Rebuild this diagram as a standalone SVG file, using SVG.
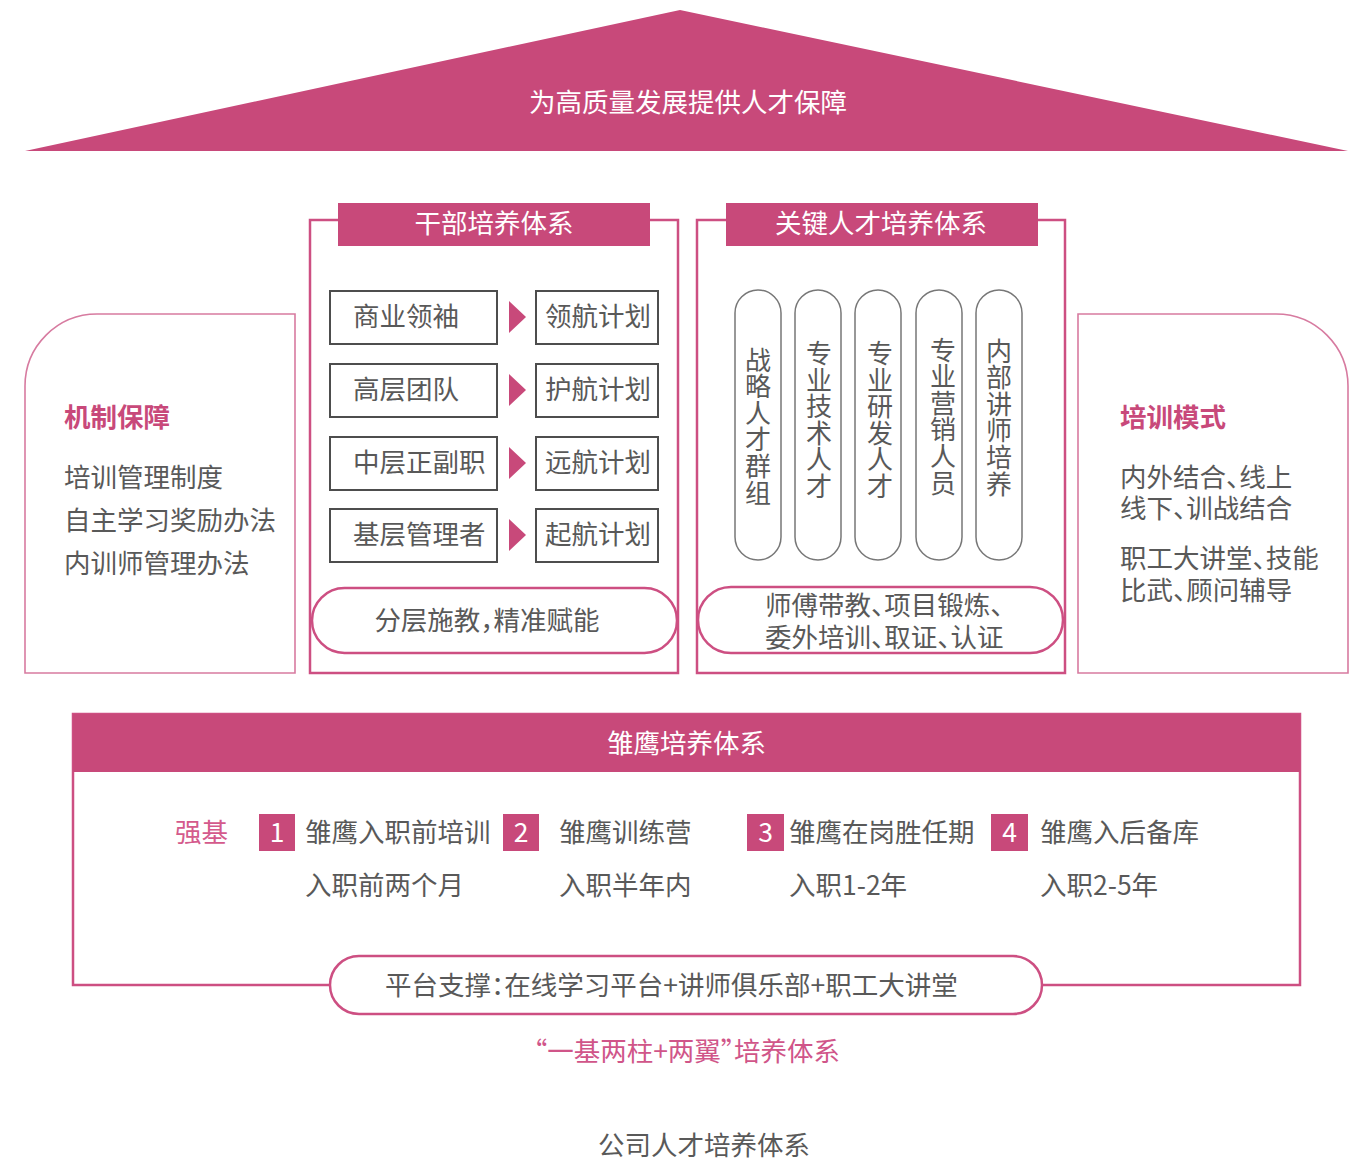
<svg xmlns="http://www.w3.org/2000/svg" width="1367" height="1162" viewBox="0 0 1367 1162">
<style>
text{font-family:"Noto Sans CJK SC","Noto Sans",sans-serif;font-feature-settings:"halt";}
.w{fill:#ffffff;font-size:26.5px;}
.g{fill:#595959;font-size:26.5px;}
.p{fill:#C8497A;font-size:26.5px;}
.pt{fill:#C8497A;font-size:26.5px;font-weight:700;}
.v{fill:#595959;font-size:26px;writing-mode:vertical-rl;text-anchor:middle;letter-spacing:0.6px;}
.bar{fill:#C8497A;}
.frame{fill:none;stroke:#CD4F82;stroke-width:2.5;}
.side{fill:#ffffff;stroke:#D77BA0;stroke-width:1.6;}
.box{fill:#ffffff;stroke:#4d4d4d;stroke-width:2;}
.vp{fill:#ffffff;stroke:#777777;stroke-width:1.5;}
.pill{fill:#ffffff;stroke:#CD4F82;stroke-width:2.5;}
.tri{fill:#C8497A;}
.c{text-anchor:middle;}
</style>

<g id="roof">
<polygon points="680,10 1348,151 25,151" class="bar"/>
<text x="688" y="111.5" class="w c">为高质量发展提供人才保障</text>
</g>

<g id="mechanism">
<path d="M25,673 V386 A72,72 0 0 1 97,314 H295 V673 Z" class="side"/>
<text x="64" y="427" class="pt">机制保障</text>
<text x="64" y="487" class="g">培训管理制度</text>
<text x="64" y="530" class="g">自主学习奖励办法</text>
<text x="64" y="573" class="g">内训师管理办法</text>
</g>

<g id="cadre">
<rect x="310" y="220" width="368" height="453" class="frame"/>
<rect x="338" y="203" width="312" height="43" class="bar"/>
<text x="494" y="233" class="w c">干部培养体系</text>
<g id="cadre-row1">
<rect x="330" y="291" width="167" height="53" class="box"/>
<text x="353" y="326" class="g">商业领袖</text>
<rect x="536" y="291" width="122" height="53" class="box"/>
<text x="545" y="326" class="g">领航计划</text>
</g>
<g id="cadre-row2">
<rect x="330" y="364" width="167" height="53" class="box"/>
<text x="353" y="399" class="g">高层团队</text>
<rect x="536" y="364" width="122" height="53" class="box"/>
<text x="545" y="399" class="g">护航计划</text>
</g>
<g id="cadre-row3">
<rect x="330" y="437" width="167" height="53" class="box"/>
<text x="353" y="472" class="g">中层正副职</text>
<rect x="536" y="437" width="122" height="53" class="box"/>
<text x="545" y="472" class="g">远航计划</text>
</g>
<g id="cadre-row4">
<rect x="330" y="509" width="167" height="53" class="box"/>
<text x="353" y="544" class="g">基层管理者</text>
<rect x="536" y="509" width="122" height="53" class="box"/>
<text x="545" y="544" class="g">起航计划</text>
</g>
<g id="cadre-pill">
<rect x="312" y="588" width="365" height="65" rx="32.5" class="pill"/>
<text x="487" y="630" class="g c">分层施教，精准赋能</text>
</g>
</g>

<g id="connectors">
<polygon points="509,301 526,317 509,333" class="tri"/>
<polygon points="509,374 526,390 509,406" class="tri"/>
<polygon points="509,447 526,463 509,479" class="tri"/>
<polygon points="509,519 526,535 509,551" class="tri"/>
</g>

<g id="key-talent">
<rect x="697" y="220" width="368" height="453" class="frame"/>
<rect x="726" y="203" width="312" height="43" class="bar"/>
<text x="881" y="233" class="w c">关键人才培养体系</text>
<g id="kt1">
<rect x="735" y="290" width="46" height="270" rx="23" class="vp"/>
<text class="v" x="758" y="426.5">战略人才群组</text>
</g>
<g id="kt2">
<rect x="795" y="290" width="46" height="270" rx="23" class="vp"/>
<text class="v" x="819" y="420">专业技术人才</text>
</g>
<g id="kt3">
<rect x="855" y="290" width="46" height="270" rx="23" class="vp"/>
<text class="v" x="880" y="420">专业研发人才</text>
</g>
<g id="kt4">
<rect x="916" y="290" width="46" height="270" rx="23" class="vp"/>
<text class="v" x="943" y="416.5">专业营销人员</text>
</g>
<g id="kt5">
<rect x="976" y="290" width="46" height="270" rx="23" class="vp"/>
<text class="v" x="999" y="417.5">内部讲师培养</text>
</g>
<g id="kt-pill">
<rect x="698" y="587" width="365" height="66" rx="33" class="pill"/>
<text x="765" y="615" class="g"><tspan x="765">师傅带教、项目锻炼、</tspan><tspan x="765" dy="32">委外培训、取证、认证</tspan></text>
</g>
</g>

<g id="mode">
<path d="M1078,673 V314 H1276 A72,72 0 0 1 1348,386 V673 Z" class="side"/>
<text x="1120" y="427" class="pt">培训模式</text>
<text x="1120" y="487" class="g"><tspan x="1120">内外结合、线上</tspan><tspan x="1120" dy="31">线下、训战结合</tspan></text>
<text x="1120" y="568" class="g"><tspan x="1120">职工大讲堂、技能</tspan><tspan x="1120" dy="32">比武、顾问辅导</tspan></text>
</g>

<g id="eagle">
<path d="M330,985 H73 V714 H1300 V985 H1042" class="frame"/>
<rect x="73" y="714" width="1227" height="58" class="bar"/>
<text x="686.5" y="753" class="w c">雏鹰培养体系</text>
<text x="175" y="842" class="p" style="fill:#D45A8C">强基</text>
<g id="eagle1">
<rect x="259" y="814" width="36" height="37" class="bar"/>
<text x="277" y="842" class="w c">1</text>
<text x="305" y="842" class="g">雏鹰入职前培训</text>
<text x="305" y="895" class="g">入职前两个月</text>
</g>
<g id="eagle2">
<rect x="503" y="814" width="36" height="37" class="bar"/>
<text x="521" y="842" class="w c">2</text>
<text x="559" y="842" class="g">雏鹰训练营</text>
<text x="559" y="895" class="g">入职半年内</text>
</g>
<g id="eagle3">
<rect x="747" y="814" width="37" height="37" class="bar"/>
<text x="765.5" y="842" class="w c">3</text>
<text x="789" y="842" class="g">雏鹰在岗胜任期</text>
<text x="789" y="895" class="g">入职1-2年</text>
</g>
<g id="eagle4">
<rect x="991" y="814" width="37" height="37" class="bar"/>
<text x="1009.5" y="842" class="w c">4</text>
<text x="1040" y="842" class="g">雏鹰入后备库</text>
<text x="1040" y="895" class="g">入职2-5年</text>
</g>
<g id="platform">
<rect x="330" y="956" width="712" height="58" rx="29" class="pill"/>
<text x="385" y="995" class="g">平台支撑：在线学习平台+讲师俱乐部+职工大讲堂</text>
</g>
</g>

<g id="captions">
<text x="687" y="1061" class="p c" style="fill:#D05589">“一基两柱+两翼”培养体系</text>
<text x="704" y="1155" class="g c">公司人才培养体系</text>
</g>
</svg>
